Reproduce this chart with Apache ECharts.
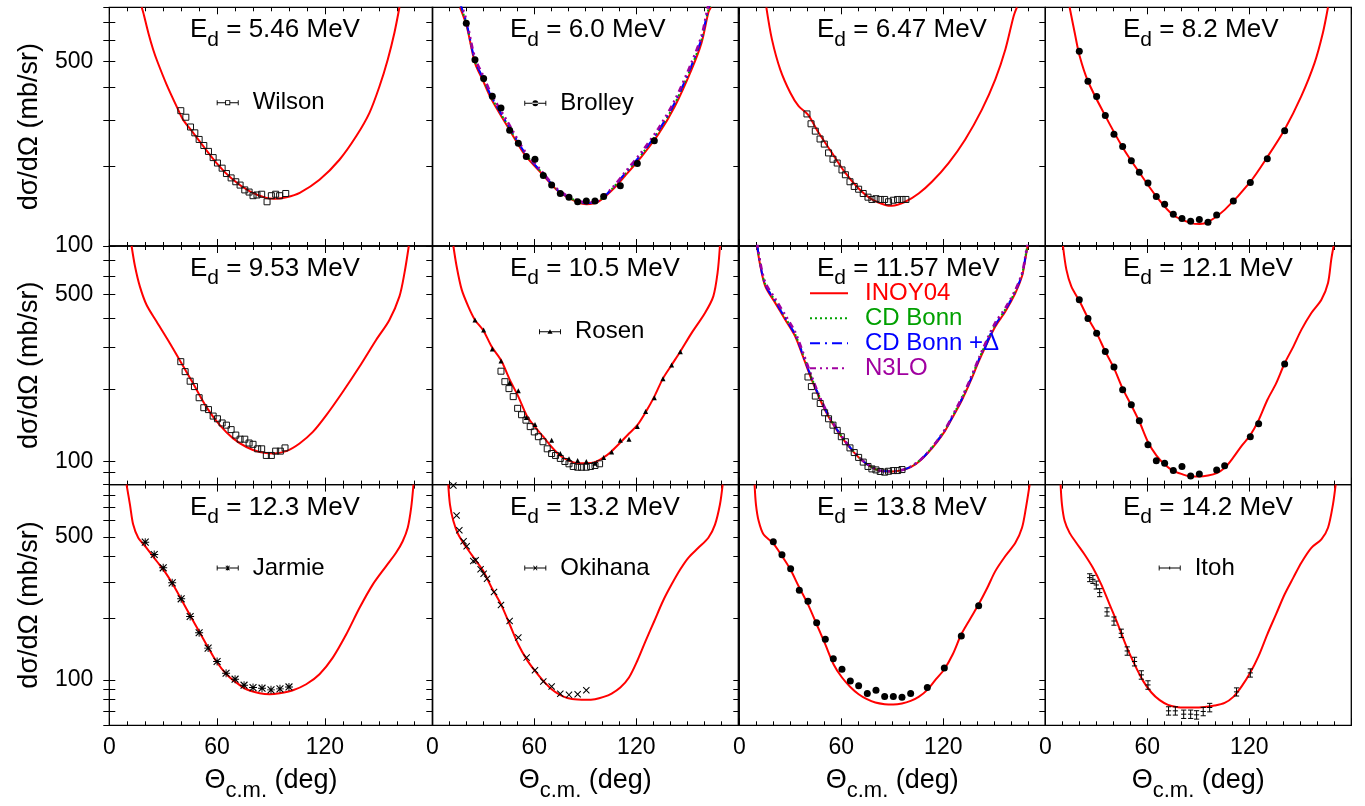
<!DOCTYPE html>
<html>
<head>
<meta charset="utf-8">
<title>d-p elastic cross sections</title>
<script src="https://cdn.jsdelivr.net/npm/echarts@6/dist/echarts.min.js"></script>
<style>
  html, body { margin: 0; padding: 0; background: #fff; }
  #chart { width: 1365px; height: 806px; }
</style>
</head>
<body>
<div id="chart"></div>
<script>
// ---- values (theta in deg, dsigma/dOmega in mb/sr) ----

// 5.46 MeV
const th546 = [18.0, 18.9, 21.7, 24.4, 26.7, 31.9, 38.3, 41.1, 46.7, 59.7, 68.9, 78.2, 87.4, 92.0, 98.6, 106.0, 117.0, 128.1, 137.4, 144.8, 150.4, 155.0, 158.7, 161.5]
const inoy546 = [800, 764, 641, 554, 500, 408, 328, 300, 268, 206, 178, 161, 152, 151, 153, 159, 178, 212, 260, 319, 402, 508, 641, 800]
const wilsonX = [39.8, 42.6, 45.2, 47.6, 50.0, 52.6, 55.2, 57.8, 60.2, 62.8, 65.2, 67.8, 70.4, 72.8, 75.4, 77.8, 80.0, 82.2, 84.8, 87.8, 90.2, 92.6, 94.8, 98.2]
const wilsonY = [325, 307, 282, 268, 253, 240, 228, 216, 206, 197, 188, 181, 175, 170, 163, 160, 155, 156, 157, 147, 155, 157, 155, 158]

// 6.0 MeV
const th600 = [16.3, 20.2, 25.1, 30.0, 34.9, 44.7, 54.5, 64.3, 74.1, 83.9, 90.8, 97.6, 105.5, 113.3, 123.1, 132.9, 142.7, 152.5, 158.4, 162.4, 163.9]
const inoy600 = [800, 680, 493, 420, 358, 280, 221, 188, 161, 148, 144, 147, 162, 184, 218, 264, 338, 465, 588, 764, 800]
const cdb600 = [820, 690, 500, 428, 364, 284, 224, 190, 162, 149, 145, 148, 164, 187, 222, 270, 346, 478, 605, 785, 820]
const cdbd600 = [830, 695, 503, 430, 366, 286, 225, 190, 162, 149, 145, 148, 164, 188, 223, 272, 349, 482, 610, 795, 830]
const n3lo600 = [850, 710, 515, 440, 374, 292, 228, 192, 163, 150, 146, 149, 165, 190, 227, 278, 357, 495, 625, 815, 850]
const brolleyX = [20.0, 25.1, 30.2, 35.3, 40.4, 45.5, 50.6, 55.3, 60.4, 65.3, 70.2, 75.3, 80.4, 85.5, 90.6, 95.7, 100.8, 110.6, 120.6, 130.6]
const brolleyY = [696, 507, 430, 369, 333, 274, 245, 218, 213, 185, 170, 158, 153, 147, 148, 148, 154, 169, 205, 250]

// 6.47 MeV
const th647 = [15.9, 19.2, 24.1, 30.0, 34.9, 40.4, 46.7, 54.5, 62.4, 70.2, 78.0, 85.9, 89.8, 97.6, 105.5, 113.3, 123.1, 132.9, 142.7, 150.6, 156.5, 161.4, 163.3]
const inoy647 = [800, 605, 465, 380, 338, 314, 268, 225, 189, 165, 150, 143, 142, 147, 158, 175, 206, 253, 328, 427, 554, 742, 800]
const sq647X = [39.8, 42.2, 44.7, 47.5, 50.0, 52.5, 55.1, 57.6, 60.4, 62.4, 65.1, 67.6, 70.2, 72.9, 75.7, 78.0, 80.4, 82.9, 85.5, 87.8, 90.6, 93.1, 95.7, 98.0]
const sq647Y = [316, 290, 272, 254, 243, 225, 213, 206, 194, 186, 175, 168, 164, 158, 153, 150, 151, 150, 150, 147, 149, 150, 150, 150]

// 8.2 MeV
const th820 = [14.3, 17.3, 20.2, 25.1, 34.9, 45.7, 55.5, 65.3, 75.1, 85.9, 90.8, 95.7, 105.5, 120.6, 130.6, 140.8, 150.6, 158.4, 163.3, 166.3]
const inoy820 = [800, 641, 523, 420, 314, 235, 189, 154, 131, 122, 121, 123, 137, 175, 217, 276, 369, 493, 641, 800]
const dot820X = [20.0, 25.1, 30.2, 35.3, 40.4, 45.5, 50.6, 55.3, 60.4, 65.3, 70.2, 75.3, 80.4, 85.5, 90.6, 95.7, 100.8, 110.6, 120.6, 130.6, 140.8]
const dot820Y = [546, 420, 368, 312, 265, 238, 210, 190, 173, 154, 144, 132, 127, 124, 126, 123, 131, 148, 174, 214, 273]

// 9.53 MeV
const th953 = [12.4, 14.3, 17.0, 20.7, 26.3, 33.7, 40.2, 46.7, 54.1, 61.5, 68.9, 76.3, 83.7, 91.1, 98.5, 105.9, 113.3, 120.7, 130.0, 139.3, 148.5, 155.9, 161.5, 164.3, 166.7]
const inoy953 = [800, 658, 542, 454, 386, 313, 258, 212, 169, 142, 125, 115, 109.5, 108, 110.5, 119, 133, 156, 196, 250, 323, 392, 492, 617, 800]
const sq953X = [39.8, 42.2, 45.0, 47.4, 50.0, 52.6, 55.2, 57.8, 60.2, 62.8, 65.2, 67.8, 70.4, 72.8, 75.4, 77.8, 80.0, 82.6, 84.8, 87.4, 90.2, 92.6, 95.2, 97.8]
const sq953Y = [262, 238, 217, 206, 185, 168, 165, 155, 151, 145, 142, 136, 129, 124, 124, 119.5, 118, 113, 113, 106, 106, 110.5, 110.5, 114]

// 10.5 MeV
const th105 = [12.4, 14.3, 17.3, 21.2, 25.1, 30.0, 34.9, 40.4, 45.7, 50.6, 55.5, 60.4, 65.3, 70.2, 75.1, 80.0, 85.5, 90.6, 95.7, 100.8, 105.5, 110.6, 115.7, 120.6, 125.5, 130.6, 135.7, 140.8, 145.9, 152.5, 160.4, 165.3, 167.8, 169.2]
const inoy105 = [800, 658, 525, 446, 392, 354, 303, 266, 219, 187, 156, 139.5, 127, 115, 106, 101, 98.4, 98.4, 99.4, 104, 110.5, 120, 131, 142, 161, 187, 223, 254, 289, 345, 419, 492, 617, 800]
const rosenX = [25.1, 30.2, 35.3, 40.4, 45.5, 50.6, 55.3, 60.4, 70.2, 75.3, 80.4, 85.5, 90.6, 95.7, 100.8, 105.5, 110.6, 115.7, 120.6, 125.5, 130.6, 135.7, 140.8, 145.9]
const rosenY = [392, 356, 296, 264, 214, 198, 153, 143, 122.6, 108, 102.6, 101, 100, 98.4, 104, 109.5, 122.6, 124, 140, 162, 185, 222, 254, 288]
const sq105X = [40.4, 42.7, 45.1, 47.6, 50.2, 52.5, 55.1, 57.6, 60.0, 62.4, 65.1, 67.6, 70.2, 72.5, 75.3, 78.0, 80.4, 82.9, 85.5, 87.8, 90.6, 93.1, 95.7, 98.4]
const sq105Y = [239, 216, 202, 187, 167, 157, 149, 140, 133, 127, 121, 113, 108, 106, 103, 100, 97.8, 95.3, 94.6, 94.6, 94.6, 95.3, 96.2, 97.8]

// 11.57 MeV
const th1157 = [10.4, 12.4, 15.3, 21.2, 27.1, 32.9, 37.8, 42.7, 47.6, 52.5, 57.5, 62.4, 67.3, 72.2, 77.1, 82.0, 86.9, 91.8, 96.7, 101.6, 106.5, 111.4, 116.3, 121.2, 126.1, 131.0, 135.9, 140.8, 145.7, 150.6, 156.5, 162.4, 166.3, 168.2, 169.6]
const inoy1157 = [800, 658, 542, 461, 392, 334, 271, 219, 181, 154, 135, 120.6, 109.5, 101, 95.3, 91.6, 90.8, 91.0, 92.2, 95.3, 101, 109.5, 120.6, 135, 156, 181, 216, 262, 313, 368, 425, 508, 597, 702, 800]
const cdb1157 = [820, 668, 552, 470, 400, 341, 277, 223, 184, 156, 136, 121.5, 110, 101.5, 95.6, 91.8, 91.0, 91.2, 92.5, 95.8, 101.6, 110.3, 121.8, 136.5, 158, 184, 220, 267, 319, 376, 434, 518, 610, 715, 820]
const cdbd1157 = [820, 665, 550, 468, 398, 339, 275, 222, 183, 155.5, 136, 121.2, 110, 101.3, 95.5, 91.7, 90.9, 91.1, 92.4, 95.6, 101.4, 110, 121.5, 136.2, 157.5, 183, 219, 266, 318, 374, 432, 516, 607, 712, 820]
const n3lo1157 = [830, 680, 562, 480, 410, 348, 282, 226, 185, 156.5, 136.5, 121.5, 110, 101.5, 95.6, 91.8, 91.0, 91.2, 92.5, 95.8, 101.6, 110.3, 122, 137, 159, 186, 222, 270, 324, 382, 440, 524, 615, 720, 830]
const sq1157X = [40.4, 42.4, 44.7, 47.6, 50.2, 52.5, 55.1, 57.6, 60.0, 62.4, 65.1, 67.6, 70.2, 72.9, 75.7, 78.0, 80.4, 82.9, 85.5, 87.8, 90.6, 93.1, 95.7]
const sq1157Y = [226, 206, 188, 175, 160, 151, 142, 135, 127, 121, 114, 109, 104, 99.4, 95.3, 93.1, 92.2, 90.8, 90.2, 91.0, 91.6, 91.6, 92.5]

// 12.1 MeV
const th121 = [10.4, 12.4, 15.3, 20.2, 25.1, 30.2, 35.3, 40.4, 45.5, 50.6, 55.5, 60.4, 65.3, 70.2, 75.1, 80.0, 85.5, 90.6, 95.7, 100.8, 105.5, 110.6, 115.7, 120.6, 125.5, 130.6, 135.7, 140.8, 145.9, 150.6, 156.5, 162.4, 166.3, 168.2, 169.6]
const inoy121 = [800, 637, 542, 469, 399, 345, 289, 246, 202, 172, 146, 120.6, 106, 97.1, 91.6, 88.7, 86.5, 86.5, 87.3, 89.3, 94.0, 104, 116.8, 129, 149, 181, 212, 258, 303, 356, 419, 476, 560, 702, 800]
const dot121X = [20.0, 25.1, 30.2, 35.3, 40.4, 45.5, 50.6, 55.3, 60.4, 65.3, 70.2, 75.3, 80.4, 85.5, 90.6, 100.8, 105.5, 120.6, 125.5, 140.8]
const dot121Y = [476, 397, 345, 289, 249, 200, 173, 148, 117.5, 100.6, 98.4, 91.6, 95.3, 87.0, 88.7, 92.2, 95.9, 127, 144, 256]

// 12.3 MeV
const th123 = [9.6, 11.5, 13.3, 16.1, 20.7, 26.3, 31.9, 36.5, 41.1, 45.7, 50.4, 55.0, 59.6, 65.2, 70.7, 76.3, 83.7, 89.3, 94.8, 102.2, 109.6, 117.0, 124.4, 131.9, 139.3, 146.7, 154.1, 159.6, 163.3, 166.1, 168.0, 169.3]
const inoy123 = [900, 719, 574, 495, 442, 381, 328, 282, 238, 201, 170, 144, 123, 106.6, 97.0, 90.0, 86.1, 85.1, 86.1, 89.0, 95.2, 106.6, 128.5, 167, 225, 293, 360, 418, 476, 554, 693, 900]
const jarmieX = [20, 25, 30, 35, 40, 45, 50, 55, 60, 65, 70, 75, 80, 85, 90, 95, 100]
const jarmieY = [471, 410, 353, 298, 249, 204, 170, 143, 123, 107.8, 100.8, 94.2, 91.7, 91.1, 89.4, 90.4, 92.4]

// 13.2 MeV
const th132 = [9.4, 10.4, 12.4, 15.3, 20.2, 25.1, 30.0, 34.9, 40.4, 45.5, 50.6, 55.5, 60.4, 65.3, 70.2, 75.1, 80.0, 85.5, 90.6, 95.7, 100.8, 105.5, 110.6, 115.7, 120.6, 125.5, 130.6, 135.7, 140.8, 145.9, 150.6, 156.5, 162.4, 166.3, 169.2, 170.8]
const inoy132 = [900, 719, 597, 513, 442, 388, 340, 282, 234, 187, 149, 126, 110.6, 98.9, 90.0, 84.5, 81.4, 80.2, 79.9, 80.5, 82.6, 85.8, 91.7, 102.7, 124, 155, 194, 243, 293, 347, 395, 442, 495, 574, 719, 900]
const okihanaX = [12.4, 14.3, 15.9, 18.4, 20.2, 24.1, 25.5, 28.4, 30.2, 32.2, 36.3, 40.4, 45.5, 50.6, 55.5, 60.4, 65.3, 70.2, 75.3, 80.4, 85.5, 90.6]
const okihanaY = [890, 636, 539, 476, 450, 381, 384, 347, 330, 312, 269, 232, 194, 161, 128.5, 111.5, 98.1, 92.8, 85.5, 84.5, 85.1, 89.0]

// 13.8 MeV
const th138 = [9.0, 9.8, 11.4, 14.3, 19.6, 25.1, 30.0, 34.9, 40.4, 45.5, 50.6, 55.5, 60.4, 65.3, 70.2, 75.1, 80.0, 85.5, 90.6, 95.7, 100.8, 105.5, 110.6, 115.7, 120.6, 125.5, 130.6, 135.7, 140.8, 145.9, 150.6, 156.5, 162.4, 166.3, 168.6, 170.8]
const inoy138 = [900, 719, 597, 513, 468, 403, 347, 287, 234, 187, 149, 119, 102.7, 92.4, 85.1, 80.5, 77.5, 76.1, 75.8, 76.7, 79.0, 82.6, 89.4, 100.8, 112.7, 133, 167, 198, 234, 282, 340, 403, 468, 554, 693, 900]
const dot138X = [20.0, 25.1, 30.2, 35.3, 40.4, 45.5, 50.6, 55.3, 60.4, 65.3, 70.2, 75.3, 80.4, 85.5, 90.6, 95.7, 100.8, 110.6, 120.6, 130.6, 140.8]
const dot138Y = [473, 409, 349, 274, 242, 190, 158, 127, 112.7, 98.9, 93.5, 85.8, 89.0, 82.9, 82.9, 82.3, 85.8, 91.7, 114.4, 164, 230]

// 14.2 MeV
const th142 = [9.0, 9.8, 11.4, 14.3, 18.2, 23.1, 28.0, 32.9, 37.8, 42.7, 47.6, 52.5, 57.5, 62.4, 67.3, 72.2, 77.1, 82.0, 87.8, 93.7, 99.6, 105.5, 110.6, 115.7, 120.6, 125.5, 130.6, 135.7, 140.8, 145.9, 150.6, 156.5, 162.4, 166.3, 169.2, 170.8]
const inoy142 = [900, 719, 597, 523, 468, 410, 353, 293, 234, 187, 146.5, 119, 98.9, 86.8, 79.6, 75.5, 73.8, 73.3, 73.3, 73.8, 74.9, 77.2, 82.6, 93.5, 108.6, 131, 167, 209, 262, 316, 374, 442, 486, 554, 719, 900]
const itohX = [26.1, 28.0, 30.0, 32.0, 36.3, 40.4, 44.7, 48.2, 52.5, 56.5, 60.4, 72.5, 76.5, 81.4, 85.5, 89.0, 92.9, 96.7, 112.5, 120.6]
const itohY = [316, 310, 291, 267, 215, 194, 169, 138.5, 123, 105.8, 94.5, 70.6, 70.6, 68.0, 68.0, 67.5, 70.1, 73.3, 87.4, 108.2]
const itohErr = [14, 14, 13, 12, 10, 9, 8, 6.5, 6, 5, 4.5, 3.3, 3.3, 3.2, 3.2, 3.2, 3.3, 3.5, 4, 5]

// axis ranges and ticks per row
const rowMin = [100, 80, 60]
const rowMax = [800, 800, 900]
const yTicksTop = [100, 200, 300, 400, 500, 600, 700, 800]
const yTicksMid = [80, 90, 100, 200, 300, 400, 500, 600, 700, 800]
const yTicksBot = [60, 70, 80, 90, 100, 200, 300, 400, 500, 600, 700, 800, 900]
const yLabels = [100, 500]
const xLabels = [0, 60, 120]

// ---- layout / style ----
const FONT = 'Liberation Sans, Arial, Helvetica, sans-serif'
const colLeft = [109.3, 432.3, 739.3, 1045.3]
const colWidth = [323.4, 306, 306, 306]
const rowTop = [7.3, 246, 484.6]
const rowHeight = [238.7, 238.6, 240.7]
const titleLeft = [190, 510, 817, 1123]

const STAR = 'path://M4.4,0H5.6V10H4.4Z M0,4.4H10V5.6H0Z M1.2,0.2L9.8,8.8L8.8,9.8L0.2,1.2Z M8.8,0.2L9.8,1.2L1.2,9.8L0.2,8.8Z'
const CROSS = 'path://M1.2,0.2L9.8,8.8L8.8,9.8L0.2,1.2Z M8.8,0.2L9.8,1.2L1.2,9.8L0.2,8.8Z'

// legend icons: horizontal error bar with the marker in the middle
const BAR = 'M0,3.5H24V4.5H0Z M0,1.3H1V6.7H0Z M23,1.3H24V6.7H23Z '
const ICONS = {
  square: 'path://M0,3.5H9.2V4.5H0Z M14.8,3.5H24V4.5H14.8Z M0,1.3H1V6.7H0Z M23,1.3H24V6.7H23Z M9.2,1.2H14.8V6.8H9.2Z M10.2,2.2V5.8H13.8V2.2Z',
  dot: 'path://' + BAR + 'M8.8,4A3.2,3.2 0 1 0 15.2,4A3.2,3.2 0 1 0 8.8,4Z',
  tri: 'path://' + BAR + 'M12,1.3L14.8,6.2L9.2,6.2Z',
  star: 'path://' + BAR + 'M11.5,1.3H12.5V6.7H11.5Z M9.6,1.9L10.3,1.3L14.4,6.1L13.7,6.7Z M13.7,1.3L14.4,1.9L10.3,6.7L9.6,6.1Z',
  cross: 'path://' + BAR + 'M9.6,1.9L10.3,1.3L14.4,6.1L13.7,6.7Z M13.7,1.3L14.4,1.9L10.3,6.7L9.6,6.1Z',
  bar: 'path://' + BAR + 'M11.5,2.4H12.5V5.6H11.5Z'
}

const panels = [
  { e: '5.46', th: th546, inoy: inoy546, sets: [{ name: 'Wilson', x: wilsonX, y: wilsonY, mark: 'square' }] },
  { e: '6.0', th: th600, inoy: inoy600, extra: [cdb600, cdbd600, n3lo600], sets: [{ name: 'Brolley', x: brolleyX, y: brolleyY, mark: 'dot' }] },
  { e: '6.47', th: th647, inoy: inoy647, sets: [{ name: 'sq 6.47', x: sq647X, y: sq647Y, mark: 'square' }] },
  { e: '8.2', th: th820, inoy: inoy820, sets: [{ name: 'pts 8.2', x: dot820X, y: dot820Y, mark: 'dot' }] },
  { e: '9.53', th: th953, inoy: inoy953, sets: [{ name: 'sq 9.53', x: sq953X, y: sq953Y, mark: 'square' }] },
  { e: '10.5', th: th105, inoy: inoy105, sets: [{ name: 'sq 10.5', x: sq105X, y: sq105Y, mark: 'square' }, { name: 'Rosen', x: rosenX, y: rosenY, mark: 'tri' }] },
  { e: '11.57', th: th1157, inoy: inoy1157, extra: [cdb1157, cdbd1157, n3lo1157], sets: [{ name: 'sq 11.57', x: sq1157X, y: sq1157Y, mark: 'square' }] },
  { e: '12.1', th: th121, inoy: inoy121, sets: [{ name: 'pts 12.1', x: dot121X, y: dot121Y, mark: 'dot' }] },
  { e: '12.3', th: th123, inoy: inoy123, sets: [{ name: 'Jarmie', x: jarmieX, y: jarmieY, mark: 'star' }] },
  { e: '13.2', th: th132, inoy: inoy132, sets: [{ name: 'Okihana', x: okihanaX, y: okihanaY, mark: 'cross' }] },
  { e: '13.8', th: th138, inoy: inoy138, sets: [{ name: 'pts 13.8', x: dot138X, y: dot138Y, mark: 'dot' }] },
  { e: '14.2', th: th142, inoy: inoy142, sets: [], itoh: true }
]

// data legends: [name, icon, icon left x, centre y]
const dataLegends = [
  ['Wilson', 'square', 216.7, 102.7],
  ['Brolley', 'dot', 524.3, 103.3],
  ['Rosen', 'tri', 539, 331.7],
  ['Jarmie', 'star', 216.7, 568],
  ['Okihana', 'cross', 524.3, 568],
  ['Itoh', 'bar', 1158.7, 568]
]

const models = [
  { name: 'INOY04', color: '#ff0000', type: 'solid', width: 2 },
  { name: 'CD Bonn', color: '#00a000', type: [2, 3], width: 2 },
  { name: 'CD Bonn +Δ', color: '#0000ff', type: [10, 5, 2, 5], width: 2 },
  { name: 'N3LO', color: '#a000a0', type: [6, 4, 2, 4, 2, 4], width: 2.5 }
]

function pts(xs, ys) {
  return xs.map((x, i) => [x, ys[i]])
}

function markStyle(mark) {
  if (mark === 'square') return { symbol: 'rect', symbolSize: 6, itemStyle: { color: 'rgba(255,255,255,0)', borderColor: '#111', borderWidth: 1, opacity: 1 } }
  if (mark === 'dot') return { symbol: 'circle', symbolSize: 7, itemStyle: { color: '#000', opacity: 1 } }
  if (mark === 'tri') return { symbol: 'triangle', symbolSize: 5, itemStyle: { color: '#000', opacity: 1 } }
  if (mark === 'star') return { symbol: STAR, symbolSize: 8, itemStyle: { color: '#000', opacity: 1 } }
  return { symbol: CROSS, symbolSize: 7, itemStyle: { color: '#000', opacity: 1 } }
}

const titleRich = {
  a: { fontFamily: FONT, fontSize: 26, fontWeight: 'normal', color: '#000', lineHeight: 26, verticalAlign: 'top' },
  s: { fontFamily: FONT, fontSize: 21, fontWeight: 'normal', color: '#000', lineHeight: 45 }
}
const xNameRich = {
  a: { fontFamily: FONT, fontSize: 27, color: '#000', lineHeight: 27, verticalAlign: 'top' },
  s: { fontFamily: FONT, fontSize: 22, color: '#000', lineHeight: 48 }
}

const grid = [], xAxis = [], yAxis = [], series = [], title = [], legend = []

panels.forEach((p, k) => {
  const r = Math.floor(k / 4)
  const c = k % 4
  grid.push({
    left: colLeft[c], top: rowTop[r], width: colWidth[c], height: rowHeight[r],
    show: true, borderColor: '#000', borderWidth: 1.3
  })

  const xBase = {
    type: 'value', gridIndex: k, min: 0, max: 180, interval: 60,
    splitLine: { show: false }, axisLine: { show: false },
    axisTick: { inside: true, length: 7, lineStyle: { color: '#000', width: 1 } },
    minorTick: { show: true, splitNumber: 6, length: 4, lineStyle: { color: '#000', width: 1 } },
    minorSplitLine: { show: false }
  }
  xAxis.push(Object.assign({}, xBase, {
    position: 'bottom',
    axisLabel: r === 2
      ? { customValues: xLabels, fontSize: 23, fontFamily: FONT, color: '#000', margin: 11 }
      : { show: false },
    name: r === 2 ? '{a|Θ}{s|c.m.}{a| (deg)}' : '',
    nameLocation: 'middle', nameGap: 42,
    nameTextStyle: { rich: xNameRich }
  }))
  xAxis.push(Object.assign({}, xBase, { position: 'top', axisLabel: { show: false } }))

  const ticks = [yTicksTop, yTicksMid, yTicksBot][r]
  const yTick = { inside: true, length: 6, customValues: ticks, lineStyle: { color: '#000', width: 1 } }
  const yBase = {
    type: 'log', logBase: 10, gridIndex: k, min: rowMin[r], max: rowMax[r],
    splitLine: { show: false }, axisLine: { show: false }, minorTick: { show: false }
  }
  yAxis.push(Object.assign({}, yBase, {
    position: 'left',
    axisTick: c === 0 ? yTick : { show: false },
    axisLabel: c === 0
      ? { customValues: yLabels, fontSize: 23, fontFamily: FONT, color: '#000', margin: 16 }
      : { show: false },
    name: c === 0 ? 'dσ/dΩ (mb/sr)' : '',
    nameLocation: 'middle', nameGap: 66,
    nameTextStyle: { fontFamily: FONT, fontSize: 27, color: '#000', lineHeight: 27 }
  }))
  yAxis.push(Object.assign({}, yBase, { position: 'right', axisTick: yTick, axisLabel: { show: false } }))

  title.push({
    text: '{a|E}{s|d}{a| = ' + p.e + ' MeV}',
    left: titleLeft[c], top: rowTop[r] + 10, padding: 0,
    textStyle: { fontWeight: 'normal', rich: titleRich }
  })

  const curves = [p.inoy].concat(p.extra || [])
  curves.forEach((ys, m) => {
    const md = models[m]
    series.push({
      type: 'line', name: md.name, xAxisIndex: 2 * k, yAxisIndex: 2 * k,
      data: pts(p.th, ys), symbol: 'none', smooth: 0.3,
      lineStyle: { color: md.color, width: md.width, type: md.type },
      itemStyle: { color: md.color }, z: 3 + m, silent: true
    })
  })

  p.sets.forEach(s => {
    series.push(Object.assign({
      type: 'scatter', name: s.name, xAxisIndex: 2 * k, yAxisIndex: 2 * k,
      data: pts(s.x, s.y), z: 10, silent: true
    }, markStyle(s.mark)))
  })

  if (p.itoh) {
    series.push({
      type: 'custom', name: 'Itoh', xAxisIndex: 2 * k, yAxisIndex: 2 * k,
      data: itohX.map((x, i) => [x, itohY[i], itohErr[i]]),
      encode: { x: 0, y: 1 }, itemStyle: { color: '#000' }, z: 10, silent: true,
      renderItem(params, api) {
        const x = api.value(0), y = api.value(1), e = api.value(2)
        const mid = api.coord([x, y])
        const lo = api.coord([x, y - e])
        const hi = api.coord([x, y + e])
        const w = 2.6
        const st = { stroke: '#000', lineWidth: 1 }
        return {
          type: 'group',
          children: [
            { type: 'line', shape: { x1: mid[0], y1: lo[1], x2: mid[0], y2: hi[1] }, style: st },
            { type: 'line', shape: { x1: mid[0] - w, y1: lo[1], x2: mid[0] + w, y2: lo[1] }, style: st },
            { type: 'line', shape: { x1: mid[0] - w, y1: hi[1], x2: mid[0] + w, y2: hi[1] }, style: st },
            { type: 'line', shape: { x1: mid[0] - w, y1: mid[1], x2: mid[0] + w, y2: mid[1] }, style: st }
          ]
        }
      }
    })
  }
})

dataLegends.forEach(([name, icon, left, cy]) => {
  legend.push({
    data: [{ name: name, icon: ICONS[icon], itemStyle: { color: '#000', borderWidth: 0, opacity: 1 } }],
    left: left, top: cy - 12, padding: 0, itemWidth: 22, itemHeight: 7.3,
    selectedMode: false,
    textStyle: { fontFamily: FONT, fontSize: 24, color: '#000', lineHeight: 24, padding: [0, 0, 0, 9] }
  })
})

legend.push({
  orient: 'vertical', left: 809, top: 281.3, padding: 0, itemWidth: 38, itemHeight: 14, itemGap: 1,
  selectedMode: false,
  data: models.map(md => ({ name: md.name, itemStyle: { opacity: 0 }, textStyle: { color: md.color } })),
  textStyle: { fontFamily: FONT, fontSize: 24, lineHeight: 24, padding: [0, 0, 0, 12] }
})

const chart = echarts.init(document.getElementById('chart'))
chart.setOption({
  animation: false,
  backgroundColor: '#fff',
  title, grid, xAxis, yAxis, legend, series
})
</script>
</body>
</html>
